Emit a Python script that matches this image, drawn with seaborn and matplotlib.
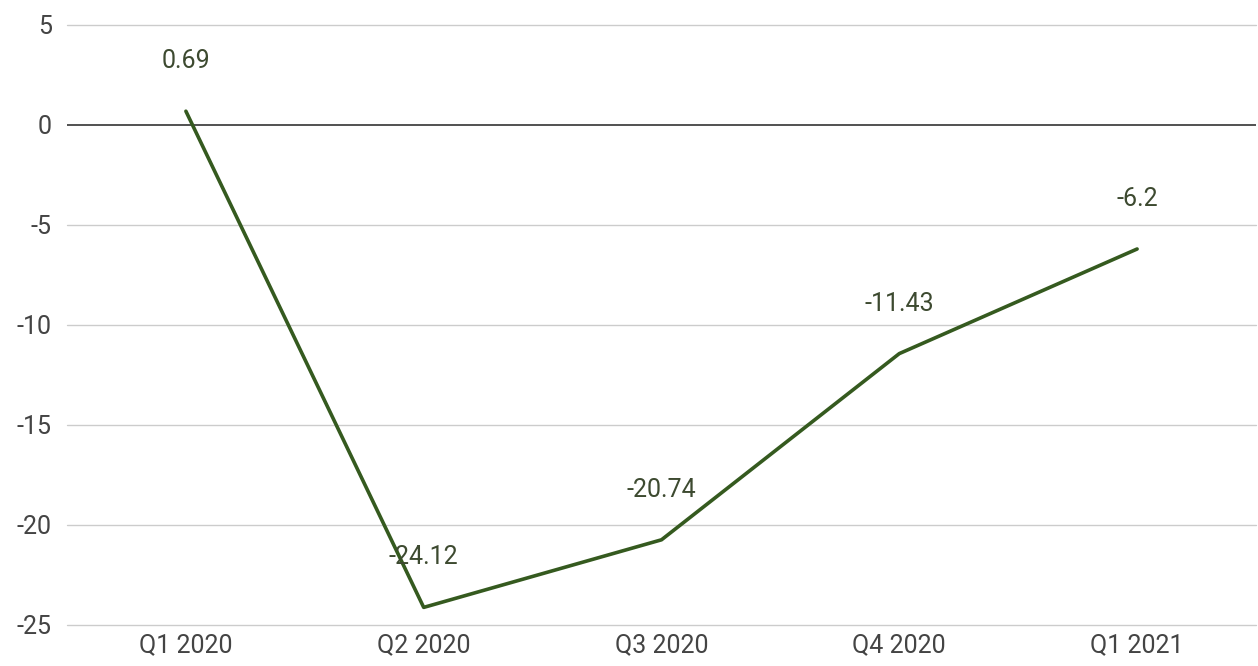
import matplotlib
matplotlib.use("Agg")
import matplotlib.pyplot as plt
import seaborn as sns
import pandas as pd

quarters = ["Q1 2020", "Q2 2020", "Q3 2020", "Q4 2020", "Q1 2021"]
values = [0.69, -24.12, -20.74, -11.43, -6.2]
labels = ["0.69", "-24.12", "-20.74", "-11.43", "-6.2"]
yticks = [5, 0, -5, -10, -15, -20, -25]

sns.set_theme(style="white")
plt.rcParams["font.family"] = ["Roboto", "DejaVu Sans"]

df = pd.DataFrame({"quarter": quarters, "value": values})

fig = plt.figure(figsize=(12.58, 6.66), dpi=100)
ax = fig.add_axes([67 / 1258, 41 / 666, (1256 - 67) / 1258, 600 / 666])

for t in yticks:
    if t != 0:
        ax.axhline(t, color="#cccccc", lw=1.0, zorder=0, clip_on=False)
ax.axhline(0, color="#333333", lw=1.2, zorder=1)

sns.lineplot(data=df, x="quarter", y="value", sort=False, color="#355a1f",
             lw=2.6, ax=ax, zorder=3)

for i, (v, lab) in enumerate(zip(values, labels)):
    ax.annotate(lab, (i, v), xytext=(0, 36), textcoords="offset points",
                ha="center", va="center", fontsize=18, color="#3d4a30")

ax.set_xlim(-0.5, len(quarters) - 0.5)
ax.set_ylim(-25, 5)
ax.set_yticks(yticks)
ax.set_yticklabels([str(t) for t in yticks])
ax.set_xlabel("")
ax.set_ylabel("")
for s in ax.spines.values():
    s.set_visible(False)
ax.tick_params(axis="both", length=0, labelsize=18, labelcolor="#444444")
ax.tick_params(axis="y", pad=11)
ax.tick_params(axis="x", pad=6)

fig.savefig("out.png", dpi=100)
